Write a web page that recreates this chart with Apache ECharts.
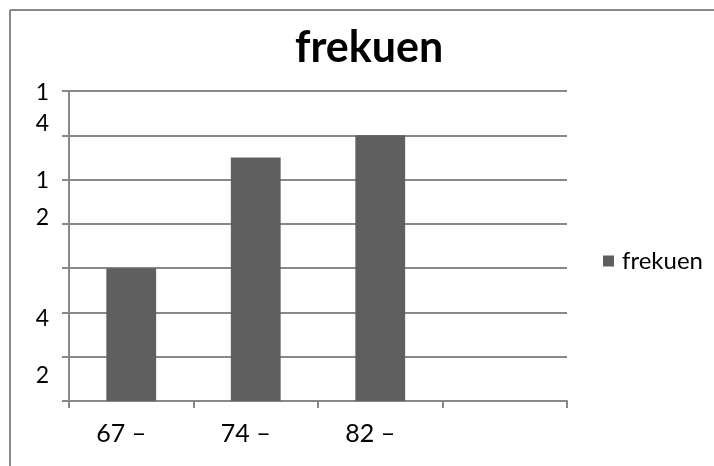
<!DOCTYPE html>
<html>
<head>
<meta charset="utf-8">
<script src="https://cdn.jsdelivr.net/npm/echarts@6/dist/echarts.min.js"></script>
<style>
  html, body { margin: 0; padding: 0; background: #ffffff; }
  #chart { width: 714px; height: 466px; }
</style>
</head>
<body>
<div id="chart"></div>
<script>
// Frequency per class interval
const categories = ['67 –', '74 –', '82 –', ''];
const frekuen = [6, 11, 12, null];
const seriesName = 'frekuen';
const titleText = 'frekuen';

// Value-axis ticks and the text shown beside each one
const yTickValues = [0, 2, 4, 6, 8, 10, 12, 14];
const yTickLabels = ['', '2', '4', '', '', '', '1\n2', '1\n4'];

const GRID = '#888888';
const BAR = '#5f5f5f';
const FONT = 'Lato, "Open Sans", sans-serif';

// Each tick label is laid out line by line; the rich style names
// give every line its own height so the digits sit where they belong.
const labelLineStyles = {
  14: ['t14a', 't14b'],
  12: ['t12a', 't12b'],
  4: ['t4'],
  2: ['t2']
};
const labelSpacer = { 12: 'sp12' };

function yLabel(value) {
  const idx = yTickValues.indexOf(value);
  const text = idx >= 0 ? yTickLabels[idx] : '';
  if (!text) return '';
  const styles = labelLineStyles[value] || [];
  const parts = text.split('\n').map((s, i) => styles[i] ? '{' + styles[i] + '|' + s + '}' : s);
  if (labelSpacer[value]) parts.unshift('{' + labelSpacer[value] + '| }');
  return parts.join('\n');
}

const digit = { fontFamily: FONT, fontSize: 23, color: '#000' };

const chart = echarts.init(document.getElementById('chart'), null, { renderer: 'canvas' });
chart.setOption({
  animation: false,
  backgroundColor: '#ffffff',
  title: {
    text: titleText,
    left: 290,
    top: 22,
    textStyle: { fontFamily: FONT, fontWeight: 'bold', fontSize: 43, color: '#000' }
  },
  legend: {
    data: [seriesName],
    left: 603,
    top: 249,
    padding: 0,
    icon: 'rect',
    itemWidth: 11,
    itemHeight: 11,
    textStyle: { fontFamily: FONT, fontSize: 24, color: '#000', padding: [0, 0, 0, 3] }
  },
  grid: { left: 69, right: 147, top: 91, bottom: 65, containLabel: false },
  xAxis: {
    type: 'category',
    data: categories,
    axisLine: { lineStyle: { color: GRID, width: 2 } },
    axisTick: { show: true, length: 7, lineStyle: { color: GRID, width: 2 } },
    axisLabel: {
      fontFamily: FONT, fontSize: 25, color: '#000',
      margin: 20, padding: [0, 20, 0, 0]
    }
  },
  yAxis: {
    type: 'value',
    min: 0,
    max: 14,
    interval: 2,
    axisLine: { show: true, lineStyle: { color: GRID, width: 2 } },
    axisTick: { show: true, length: 7, lineStyle: { color: GRID, width: 2 } },
    splitLine: { show: true, lineStyle: { color: GRID, width: 2 } },
    axisLabel: {
      margin: 20,
      verticalAlign: 'top',
      fontFamily: FONT, fontSize: 23, color: '#000',
      formatter: yLabel,
      rich: {
        t14a: Object.assign({ lineHeight: 4 }, digit),
        t14b: Object.assign({ lineHeight: 57 }, digit),
        sp12: Object.assign({ lineHeight: 27 }, digit),
        t12a: Object.assign({ lineHeight: 37 }, digit),
        t12b: Object.assign({ lineHeight: 37 }, digit),
        t4: Object.assign({ lineHeight: 13 }, digit),
        t2: Object.assign({ lineHeight: 38 }, digit)
      }
    }
  },
  series: [{
    name: seriesName,
    type: 'bar',
    data: frekuen,
    barWidth: '40%',
    itemStyle: { color: BAR }
  }],
  graphic: [
    { type: 'line', shape: { x1: 10, y1: 10, x2: 714, y2: 10 }, style: { stroke: GRID, lineWidth: 2 } },
    { type: 'line', shape: { x1: 10, y1: 10, x2: 10, y2: 466 }, style: { stroke: GRID, lineWidth: 2 } }
  ]
});
</script>
</body>
</html>
